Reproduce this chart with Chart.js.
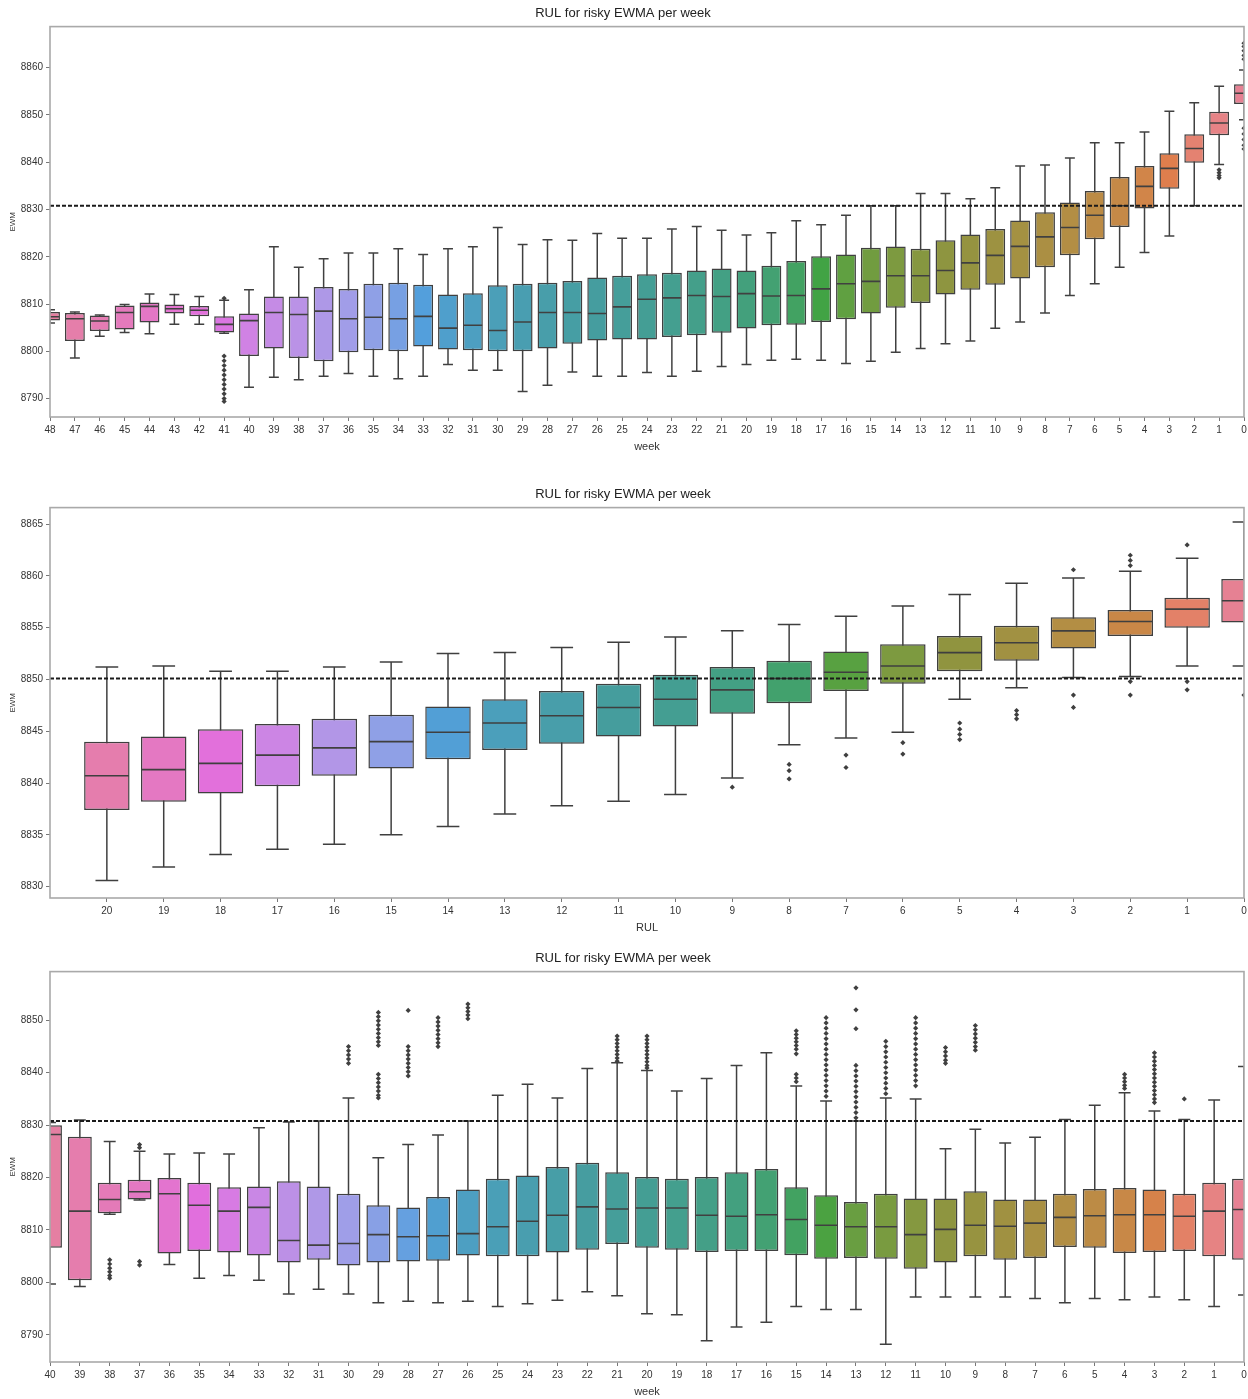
<!DOCTYPE html>
<html><head><meta charset="utf-8">
<script src="https://cdn.jsdelivr.net/npm/chart.js@4.4.0/dist/chart.umd.min.js"></script>
<style>
html,body{margin:0;padding:0;background:#fff;overflow:hidden;width:1248px;height:1399px;}
.panel{position:absolute;left:0;width:1248px;height:460px;}
</style></head><body>
<div class="panel" style="top:0"><canvas id="c1"></canvas></div>
<div class="panel" style="top:481px"><canvas id="c2"></canvas></div>
<div class="panel" style="top:945px"><canvas id="c3"></canvas></div>
<script>
// ---------- Panel 1: week 48 .. 0 ----------
const p1Labels = ['48','47','46','45','44','43','42','41','40','39','38','37','36','35','34','33','32','31','30','29','28','27','26','25','24','23','22','21','20','19','18','17','16','15','14','13','12','11','10','9','8','7','6','5','4','3','2','1','0'];
const p1Low  = [8806.0,8798.6,8803.2,8804.0,8803.7,8805.7,8805.7,8803.8,8792.4,8794.5,8794.0,8794.7,8795.3,8794.7,8794.2,8794.7,8797.2,8796.0,8796.0,8791.5,8792.8,8795.6,8794.7,8794.7,8795.5,8794.7,8795.8,8796.8,8797.2,8798.1,8798.3,8798.1,8797.4,8797.9,8799.8,8800.6,8801.6,8802.2,8804.9,8806.2,8808.1,8811.8,8814.3,8817.8,8820.9,8824.4,8830.8,8839.5,8849.0];
const p1Q1   = [8806.5,8802.2,8804.3,8804.6,8806.1,8808.0,8807.4,8804.0,8799.0,8800.6,8798.6,8797.9,8799.8,8800.2,8800.0,8801.0,8800.4,8800.2,8800.0,8800.0,8800.6,8801.6,8802.3,8802.5,8802.5,8803.0,8803.4,8803.9,8804.8,8805.5,8805.6,8806.2,8806.8,8808.0,8809.2,8810.2,8812.0,8813.0,8814.1,8815.4,8817.8,8820.3,8823.7,8826.3,8830.2,8834.4,8839.9,8845.7,8852.3];
const p1Med  = [8807.3,8806.9,8806.4,8808.2,8809.5,8809.0,8808.7,8805.7,8806.5,8808.2,8807.8,8808.5,8806.9,8807.2,8806.9,8807.4,8804.9,8805.5,8804.4,8806.2,8808.2,8808.2,8808.0,8809.4,8811.0,8811.3,8811.8,8811.6,8812.2,8811.7,8811.8,8813.2,8814.3,8814.8,8816.0,8816.0,8817.1,8818.7,8820.3,8822.2,8824.2,8826.2,8828.8,8830.8,8834.9,8838.7,8842.9,8848.3,8854.6];
const p1Q3   = [8808.3,8808.1,8807.6,8809.7,8810.3,8809.9,8809.6,8807.4,8808.0,8811.6,8811.6,8813.6,8813.2,8814.3,8814.5,8814.1,8812.0,8812.3,8814.0,8814.3,8814.5,8814.9,8815.6,8816.0,8816.3,8816.6,8817.1,8817.5,8817.1,8818.1,8819.1,8820.1,8820.5,8821.9,8822.2,8821.7,8823.5,8824.7,8825.9,8827.7,8829.4,8831.5,8833.9,8836.9,8839.2,8841.9,8845.9,8850.7,8856.5];
const p1High = [8808.8,8808.3,8807.7,8809.9,8812.1,8812.0,8811.6,8810.8,8813.0,8822.1,8817.8,8819.6,8820.8,8820.8,8821.7,8820.5,8821.7,8822.1,8826.2,8822.6,8823.6,8823.5,8824.9,8823.9,8823.9,8825.9,8826.4,8825.6,8824.6,8825.1,8827.6,8826.8,8828.8,8830.8,8830.8,8833.4,8833.4,8832.3,8834.6,8839.2,8839.4,8840.9,8844.1,8844.1,8846.4,8850.8,8852.6,8856.1,8859.5];
const p1Outliers = [[],[],[],[],[],[],[],
  [8811.2,8799.0,8798.0,8797.0,8796.0,8795.0,8794.0,8793.0,8792.0,8791.0,8790.0,8789.4],
  [],[],[],[],[],[],[],[],[],[],[],[],[],[],[],[],[],[],[],[],[],[],[],[],[],[],[],[],[],[],[],[],[],[],[],[],[],[],[],
  [8838.4,8837.8,8837.2,8836.7],
  [8865.2,8864.5,8863.6,8862.6,8861.8,8847.2,8846.0,8844.8,8843.6,8842.8]];
const p1YTicks = [8790,8800,8810,8820,8830,8840,8850,8860];
const p1Threshold = 8830.8;

// ---------- Panel 2: RUL 20 .. 0 ----------
const p2Labels = ['20','19','18','17','16','15','14','13','12','11','10','9','8','7','6','5','4','3','2','1','0'];
const p2Low  = [8830.6,8831.9,8833.1,8833.6,8834.1,8835.0,8835.8,8837.0,8837.8,8838.25,8838.9,8840.5,8843.7,8844.35,8844.9,8848.1,8849.2,8850.2,8850.3,8851.3,8851.3];
const p2Q1   = [8837.4,8838.2,8839.0,8839.7,8840.7,8841.4,8842.3,8843.2,8843.8,8844.5,8845.45,8846.7,8847.7,8848.9,8849.6,8850.8,8851.8,8853.0,8854.2,8855.0,8855.5];
const p2Med  = [8840.7,8841.3,8841.9,8842.7,8843.4,8844.0,8844.9,8845.8,8846.5,8847.3,8848.1,8849.0,8850.1,8850.7,8851.3,8852.6,8853.55,8854.7,8855.6,8856.8,8857.6];
const p2Q3   = [8844.0,8844.5,8845.2,8845.7,8846.2,8846.6,8847.4,8848.1,8848.9,8849.6,8850.45,8851.2,8851.8,8852.7,8853.4,8854.2,8855.2,8856.0,8856.7,8857.9,8859.7];
const p2High = [8851.2,8851.3,8850.8,8850.8,8851.2,8851.7,8852.5,8852.6,8853.1,8853.6,8854.1,8854.7,8855.3,8856.1,8857.1,8858.2,8859.3,8859.8,8860.45,8861.7,8865.2];
const p2Outliers = [[],[],[],[],[],[],[],[],[],[],[],
  [8839.6],[8841.8,8841.2,8840.4],[8842.7,8841.5],[8843.9,8842.8],[8845.8,8845.2,8844.7,8844.2],
  [8847.0,8846.6,8846.2],[8860.6,8848.5,8847.3],[8862.0,8861.5,8861.0,8849.8,8848.5],[8863.0,8849.8,8849.0],[8848.5]];
const p2YTicks = [8830,8835,8840,8845,8850,8855,8860,8865];
const p2Threshold = 8850.1;

// ---------- Panel 3: week 40 .. 0 ----------
const p3Labels = ['40','39','38','37','36','35','34','33','32','31','30','29','28','27','26','25','24','23','22','21','20','19','18','17','16','15','14','13','12','11','10','9','8','7','6','5','4','3','2','1','0'];
const p3Low  = [8799.7,8799.2,8813.0,8815.7,8803.4,8800.8,8801.3,8800.4,8797.8,8798.7,8797.8,8796.1,8796.4,8796.1,8796.4,8795.4,8795.9,8796.6,8798.2,8797.45,8794.0,8793.8,8788.85,8791.5,8792.4,8795.4,8794.8,8794.8,8788.2,8797.2,8797.2,8797.2,8797.2,8796.9,8796.1,8796.9,8796.7,8797.2,8796.7,8795.4,8797.6];
const p3Q1   = [8806.6,8800.4,8813.2,8815.8,8805.5,8806.0,8805.7,8805.1,8803.8,8804.3,8803.2,8803.8,8804.0,8804.1,8805.1,8805.0,8805.0,8805.7,8806.2,8807.3,8806.6,8806.2,8805.8,8806.0,8806.0,8805.15,8804.5,8804.65,8804.5,8802.6,8803.8,8805.0,8804.3,8804.65,8806.75,8806.6,8805.6,8805.8,8806.0,8805.0,8804.3];
const p3Med  = [8828.2,8813.6,8815.8,8817.3,8816.9,8814.7,8813.6,8814.3,8808.0,8807.1,8807.4,8809.1,8808.7,8808.9,8809.3,8810.6,8811.65,8812.8,8814.4,8814.0,8814.2,8814.2,8812.8,8812.6,8812.9,8812.0,8810.9,8810.6,8810.6,8809.1,8810.1,8810.9,8810.7,8811.3,8812.4,8812.7,8812.9,8812.9,8812.6,8813.6,8813.9];
const p3Q3   = [8830.0,8827.8,8819.0,8819.6,8819.9,8819.0,8818.15,8818.3,8819.3,8818.3,8816.9,8814.7,8814.3,8816.3,8817.7,8819.75,8820.4,8822.0,8822.8,8821.0,8820.1,8819.75,8820.1,8821.0,8821.65,8818.15,8816.6,8815.35,8816.9,8816.0,8816.0,8817.4,8815.8,8815.8,8816.9,8817.8,8818.0,8817.7,8816.9,8819.0,8819.75];
const p3High = [8830.5,8831.0,8826.9,8825.0,8824.5,8824.7,8824.5,8829.5,8830.6,8830.8,8835.2,8823.8,8826.3,8828.1,8830.8,8835.7,8837.8,8835.2,8840.8,8841.9,8840.45,8836.5,8838.9,8841.4,8843.8,8837.45,8834.6,8830.8,8835.2,8835.0,8825.5,8829.2,8826.6,8827.7,8831.1,8833.8,8836.2,8832.7,8831.1,8834.8,8841.2];
const p3Outliers = [[],[],
  [8804.3,8803.5,8802.7,8802.0,8801.3,8800.8],
  [8826.3,8825.7,8804.0,8803.3],
  [],[],[],[],[],[],
  [8845.0,8844.2,8843.4,8842.6,8841.8],
  [8851.5,8850.7,8849.9,8849.1,8848.3,8847.5,8846.7,8845.9,8845.2,8839.7,8838.9,8838.1,8837.3,8836.5,8835.7,8835.2],
  [8851.9,8845.0,8844.2,8843.4,8842.6,8841.8,8841.0,8840.2,8839.4],
  [8850.5,8849.7,8848.9,8848.1,8847.3,8846.5,8845.7,8845.0],
  [8853.1,8852.4,8851.7,8851.0,8850.3],
  [],[],[],[],
  [8847.0,8846.3,8845.6,8844.9,8844.2,8843.5,8842.8,8842.2],
  [8847.0,8846.3,8845.6,8844.9,8844.2,8843.5,8842.8,8842.1,8841.4,8840.9],
  [],[],[],[],
  [8848.0,8847.3,8846.6,8845.9,8845.2,8844.5,8843.6,8839.7,8839.0,8838.3],
  [8850.5,8849.5,8848.5,8847.5,8846.5,8845.5,8844.5,8843.5,8842.5,8841.5,8840.5,8839.5,8838.5,8837.5,8836.5,8835.5],
  [8856.2,8852.0,8848.4,8841.4,8840.4,8839.4,8838.4,8837.4,8836.4,8835.4,8834.4,8833.4,8832.4,8831.4],
  [8846.0,8845.0,8844.0,8843.0,8842.0,8841.0,8840.0,8839.0,8838.0,8837.0,8836.0],
  [8850.5,8849.5,8848.5,8847.5,8846.5,8845.5,8844.5,8843.5,8842.5,8841.5,8840.5,8839.5,8838.5,8837.5],
  [8844.8,8844.0,8843.2,8842.4,8841.8],
  [8849.0,8848.2,8847.4,8846.6,8845.8,8845.0,8844.3],
  [],[],[],[],
  [8839.7,8839.0,8838.3,8837.6,8837.0],
  [8843.8,8843.0,8842.2,8841.4,8840.6,8839.8,8839.0,8838.2,8837.4,8836.6,8835.8,8835.0,8834.3],
  [8835.0],
  [],[]];
const p3YTicks = [8790,8800,8810,8820,8830,8840,8850];
const p3Threshold = 8830.8;

const titleText = 'RUL for risky EWMA per week';

// ---------- seaborn-like husl palette ----------
const M = [[3.2406,-1.5372,-0.4986],[-0.9689,1.8758,0.0415],[0.0557,-0.2040,1.0570]];
function maxChroma(L,H){const hr=H*Math.PI/180,s=Math.sin(hr),c=Math.cos(hr);const sub1=Math.pow(L+16,3)/1560896;const sub2=sub1>0.008856?sub1:L/903.3;let res=Infinity;for(const [m1,m2,m3] of M){const top=(0.99915*m1+1.05122*m2+1.14460*m3)*sub2;const rb=0.86330*m3-0.17266*m2;const lb=0.12949*m3-0.38848*m1;const bottom=(rb*s+lb*c)*sub2;for(const t of [0,1]){const C=L*(top-1.05122*t)/(bottom+0.17266*s*t);if(C>0&&C<res)res=C;}}return res;}
function huslToRgb(H,S,L){const C=maxChroma(L,H)/100*S;const hr=H*Math.PI/180;const U=Math.cos(hr)*C,V=Math.sin(hr)*C;const t=(L+16)/116;const Y=Math.pow(t,3)>0.008856?Math.pow(t,3):(116*t-16)/903.3;const vu=U/(13*L)+0.19784,vv=V/(13*L)+0.46834;const X=-(9*Y*vu)/((vu-4)*vv-vu*vv);const Z=(9*Y-15*vv*Y-vv*X)/(3*vv);return M.map(r=>{const c=r[0]*X+r[1]*Y+r[2]*Z;const v=c<=0.0031308?12.92*c:1.055*Math.pow(c,1/2.4)-0.055;return Math.min(1,Math.max(0,v));});}
function hex(rgb){return '#'+rgb.map(v=>Math.round(v*255).toString(16).padStart(2,'0')).join('');}
function paletteColor(k,n){const h=((k/n+0.01)%1)*359;const rgb=huslToRgb(h,0.9*99,0.65*99);const l=(Math.max(...rgb)+Math.min(...rgb))/2;return rgb.map(v=>l+0.75*(v-l));}

const frame = {id:'frame', afterDraw(chart){const a=chart.chartArea,ctx=chart.ctx;ctx.save();ctx.strokeStyle='#a9a9a9';ctx.lineWidth=1.6;ctx.strokeRect(a.left,a.top,a.right-a.left,a.bottom-a.top);ctx.restore();}};

const FONT = '"Liberation Sans","Arimo",sans-serif';

function makePanel(id,cfg){
  const n=cfg.labels.length;
  const idx=cfg.labels.map((_,i)=>i);
  const rgbs=cfg.labels.map(l=>paletteColor(+l,cfg.nHues));
  const colors=rgbs.map(hex);
  const lum=Math.min(...rgbs.map(c=>(Math.max(...c)+Math.min(...c))/2))*0.6;
  const gray=hex([lum,lum,lum]);
  const step=ch=>Math.abs(ch.scales.x.getPixelForValue(1)-ch.scales.x.getPixelForValue(0));
  const xMax=n-1;
  new Chart(document.getElementById(id),{
    type:'bar',
    data:{datasets:[
      {type:'line',label:'thr',data:[{x:cfg.xMin,y:cfg.threshold},{x:xMax,y:cfg.threshold}],borderColor:'#1a1a1a',borderWidth:1.9,borderDash:[4,2],pointRadius:0,order:0,clip:0},
      {type:'scatter',label:'median',data:idx.map(i=>({x:i,y:cfg.med[i]})),pointStyle:'line',pointRadius:c=>step(c.chart)*0.4-0.6,pointBorderColor:gray,pointBorderWidth:1.6,pointBackgroundColor:gray,order:1,clip:0},
      {type:'scatter',label:'outliers',data:idx.flatMap(i=>cfg.out[i].map(v=>({x:i,y:v}))),pointStyle:'rectRot',pointRadius:2.6,pointBackgroundColor:gray,pointBorderColor:gray,pointBorderWidth:0,order:2,clip:0},
      {type:'scatter',label:'caps',data:idx.flatMap(i=>[{x:i,y:cfg.low[i]},{x:i,y:cfg.high[i]}]),pointStyle:'line',pointRadius:c=>step(c.chart)*0.2,pointBorderColor:gray,pointBorderWidth:1.5,order:3,clip:0},
      {type:'bar',label:'box',data:idx.map(i=>({x:i,y:[cfg.q1[i],cfg.q3[i]]})),backgroundColor:colors,borderColor:gray,borderWidth:1.5,borderSkipped:false,grouped:false,barPercentage:0.8,categoryPercentage:1,order:4,clip:0},
      {type:'bar',label:'whisker',data:idx.map(i=>({x:i,y:[cfg.low[i],cfg.high[i]]})),backgroundColor:gray,borderWidth:0,borderSkipped:false,grouped:false,barPercentage:0.8,categoryPercentage:1,maxBarThickness:1.5,order:5,clip:0}
    ]},
    options:{
      responsive:true,maintainAspectRatio:false,animation:false,events:[],
      layout:{padding:{left:0,right:2,top:0,bottom:0}},
      plugins:{legend:{display:false},tooltip:{enabled:false},
        title:{display:true,text:titleText,color:'#222',font:{family:FONT,size:13,weight:'normal'},padding:{top:6,bottom:5}}},
      scales:{
        x:{type:'linear',min:cfg.xMin,max:xMax,offset:false,
          afterBuildTicks:s=>{s.ticks=idx.map(i=>({value:i}));},
          afterFit:s=>{s.height=43;s.paddingLeft=0;s.paddingRight=0;},
          ticks:{callback:v=>cfg.labels[v],autoSkip:false,maxRotation:0,minRotation:0,color:'#333',font:{family:FONT,size:10},padding:3},
          grid:{display:true,offset:false,drawOnChartArea:false,drawTicks:true,tickLength:4,tickColor:'#777',tickWidth:1},
          border:{display:false},
          title:{display:true,text:cfg.xTitle,color:'#333',font:{family:FONT,size:11},padding:{top:0,bottom:6}}},
        y:{type:'linear',min:cfg.yMin,max:cfg.yMax,
          afterBuildTicks:s=>{s.ticks=cfg.yTicks.map(v=>({value:v}));},
          afterFit:s=>{s.width=50;},
          ticks:{callback:v=>String(v),color:'#333',font:{family:FONT,size:10},padding:3},
          grid:{display:true,drawOnChartArea:false,drawTicks:true,tickLength:4,tickColor:'#777',tickWidth:1},
          border:{display:false},
          title:{display:true,text:'EWM',color:'#333',font:{family:FONT,size:8},padding:{top:8,bottom:0}}}
      }
    },
    plugins:[frame]
  });
}

makePanel('c1',{labels:p1Labels,low:p1Low,q1:p1Q1,med:p1Med,q3:p1Q3,high:p1High,out:p1Outliers,yTicks:p1YTicks,threshold:p1Threshold,yMin:8786.1,yMax:8868.7,xMin:0,nHues:49,xTitle:'week'});
makePanel('c2',{labels:p2Labels,low:p2Low,q1:p2Q1,med:p2Med,q3:p2Q3,high:p2High,out:p2Outliers,yTicks:p2YTicks,threshold:p2Threshold,yMin:8828.9,yMax:8866.6,xMin:-1,nHues:21,xTitle:'RUL'});
makePanel('c3',{labels:p3Labels,low:p3Low,q1:p3Q1,med:p3Med,q3:p3Q3,high:p3High,out:p3Outliers,yTicks:p3YTicks,threshold:p3Threshold,yMin:8784.8,yMax:8859.3,xMin:0,nHues:41,xTitle:'week'});
</script>
</body></html>
